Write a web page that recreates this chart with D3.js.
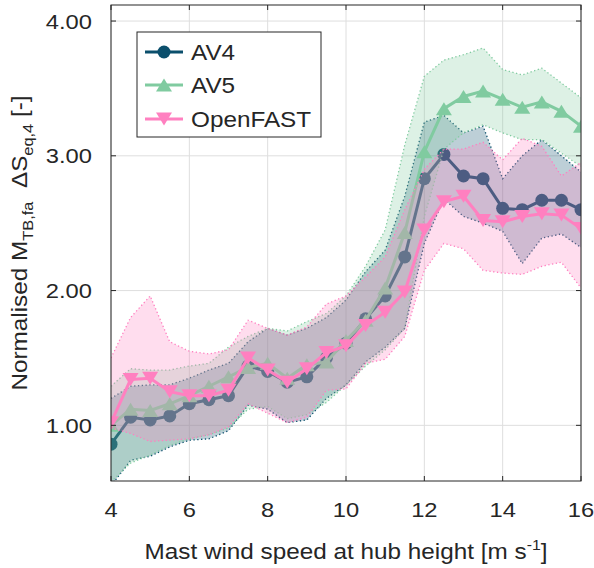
<!DOCTYPE html>
<html>
<head>
<meta charset="utf-8">
<script src="https://cdn.jsdelivr.net/npm/d3@7"></script>
<style>
  body { margin: 0; background: #fff; }
  text { font-family: "Liberation Sans", Arial, sans-serif; fill: #262626; }
</style>
</head>
<body>
<svg class="chartSVG" width="594" height="568"></svg>
<script>
// wind speed bins [m/s]
const windSpeed = [4, 4.5, 5, 5.5, 6, 6.5, 7, 7.5, 8, 8.5, 9, 9.5, 10, 10.5, 11, 11.5, 12, 12.5, 13, 13.5, 14, 14.5, 15, 15.5, 16]

// AV4
const av4Mean  = [0.86, 1.06, 1.04, 1.07, 1.16, 1.19, 1.22, 1.44, 1.40, 1.32, 1.36, 1.50, 1.61, 1.79, 1.96, 2.25, 2.83, 3.01, 2.85, 2.83, 2.61, 2.60, 2.67, 2.67, 2.60]
const av4Upper = [1.20, 1.29, 1.30, 1.30, 1.35, 1.41, 1.46, 1.62, 1.72, 1.67, 1.72, 1.80, 1.93, 2.14, 2.30, 2.70, 3.25, 3.30, 3.17, 3.22, 2.83, 3.00, 3.12, 3.00, 2.88]
const av4Lower = [0.55, 0.74, 0.77, 0.84, 0.89, 0.90, 0.96, 1.15, 1.12, 1.02, 1.04, 1.20, 1.30, 1.47, 1.58, 1.72, 2.35, 2.68, 2.55, 2.50, 2.44, 2.20, 2.39, 2.42, 2.32]

// AV5
const av5Mean  = [1.00, 1.12, 1.11, 1.16, 1.22, 1.29, 1.36, 1.43, 1.46, 1.35, 1.45, 1.47, 1.63, 1.78, 2.02, 2.43, 3.03, 3.35, 3.44, 3.48, 3.42, 3.36, 3.40, 3.33, 3.22]
const av5Upper = [1.29, 1.42, 1.41, 1.41, 1.44, 1.46, 1.58, 1.66, 1.72, 1.70, 1.77, 1.83, 1.96, 2.18, 2.45, 3.08, 3.59, 3.71, 3.75, 3.80, 3.64, 3.60, 3.65, 3.54, 3.43]
const av5Lower = [0.58, 0.72, 0.78, 0.85, 0.90, 0.93, 0.98, 1.12, 1.14, 1.05, 1.08, 1.17, 1.30, 1.44, 1.56, 1.72, 2.55, 3.05, 3.17, 3.23, 3.17, 3.12, 3.12, 3.02, 2.92]

// OpenFAST
const ofMean  = [1.02, 1.34, 1.35, 1.25, 1.22, 1.22, 1.26, 1.50, 1.41, 1.32, 1.42, 1.54, 1.59, 1.74, 1.84, 1.99, 2.45, 2.66, 2.70, 2.52, 2.51, 2.55, 2.57, 2.56, 2.46]
const ofUpper = [1.50, 1.80, 1.96, 1.62, 1.55, 1.53, 1.56, 1.78, 1.72, 1.67, 1.73, 1.90, 1.96, 2.10, 2.25, 2.60, 2.90, 3.05, 3.05, 3.10, 2.97, 3.13, 3.07, 2.85, 2.95]
const ofLower = [0.98, 0.94, 0.88, 0.89, 0.90, 0.93, 0.99, 1.16, 1.09, 1.02, 1.06, 1.26, 1.27, 1.46, 1.49, 1.66, 2.15, 2.35, 2.31, 2.15, 2.13, 2.12, 2.18, 2.21, 2.02]

const xTicks = [4, 6, 8, 10, 12, 14, 16]
const yTicks = [1, 2, 3, 4]

const series = [
  { name: "AV4", color: "#0b4f6c", marker: "circle", mean: av4Mean, upper: av4Upper, lower: av4Lower },
  { name: "AV5", color: "#80cba0", marker: "up", mean: av5Mean, upper: av5Upper, lower: av5Lower },
  { name: "OpenFAST", color: "#ff80c0", marker: "down", mean: ofMean, upper: ofUpper, lower: ofLower },
]

const svg = d3.select(".chartSVG")
const margin = { left: 111, top: 5, right: 13, bottom: 87 }
const W = 594, H = 568
const axisColor = "#262626"
const stretch = 1.13 // the text in the original is set wider than Arial

const x = d3.scaleLinear().domain([4, 16]).range([margin.left, W - margin.right])
const y = d3.scaleLinear().domain([0.587, 4.119]).range([H - margin.bottom, margin.top])

svg.append("defs").append("clipPath").attr("id", "plotClip")
  .append("rect")
  .attr("x", x.range()[0]).attr("y", y.range()[1])
  .attr("width", x.range()[1] - x.range()[0])
  .attr("height", y.range()[0] - y.range()[1])

// grid
const grid = svg.append("g").attr("class", "grid")
grid.selectAll(".gx").data(xTicks).join("line")
  .attr("x1", d => x(d)).attr("x2", d => x(d))
  .attr("y1", y.range()[0]).attr("y2", y.range()[1])
  .attr("stroke", "#dedede").attr("stroke-width", 1)
grid.selectAll(".gy").data(yTicks).join("line")
  .attr("y1", d => y(d)).attr("y2", d => y(d))
  .attr("x1", x.range()[0]).attr("x2", x.range()[1])
  .attr("stroke", "#dedede").attr("stroke-width", 1)

const plot = svg.append("g").attr("clip-path", "url(#plotClip)")

function markerPath(type) {
  const w = 16, h = 13
  if (type == "up") return `M0,${-h / 2}L${w / 2},${h / 2}L${-w / 2},${h / 2}Z`
  if (type == "down") return `M0,${h / 2}L${w / 2},${-h / 2}L${-w / 2},${-h / 2}Z`
  return null
}

function drawMarkers(g, pts, s) {
  if (s.marker == "circle") {
    g.selectAll("circle").data(pts).join("circle")
      .attr("cx", d => d[0]).attr("cy", d => d[1])
      .attr("r", 6.5).attr("fill", s.color)
  } else {
    g.selectAll("path.mk").data(pts).join("path")
      .attr("class", "mk")
      .attr("d", markerPath(s.marker))
      .attr("transform", d => `translate(${d[0]},${d[1]})`)
      .attr("fill", s.color)
  }
}

const area = d3.area()
  .x(d => x(d.ws)).y0(d => y(d.lo)).y1(d => y(d.hi))
const edge = d3.line().x(d => x(d[0])).y(d => y(d[1]))

series.forEach(s => {
  const band = windSpeed.map((ws, i) => ({ ws: ws, lo: s.lower[i], hi: s.upper[i] }))
  const g = plot.append("g").attr("class", "series-" + s.name)

  g.append("path")
    .attr("d", area(band))
    .attr("fill", s.color).attr("fill-opacity", 0.27)

  ;[s.upper, s.lower].forEach(b => {
    g.append("path")
      .attr("d", edge(windSpeed.map((ws, i) => [ws, b[i]])))
      .attr("fill", "none")
      .attr("stroke", s.color)
      .attr("stroke-width", 1.3)
      .attr("stroke-dasharray", "1.3,2.5")
  })

  const pts = windSpeed.map((ws, i) => [ws, s.mean[i]])
  g.append("path")
    .attr("d", edge(pts))
    .attr("fill", "none")
    .attr("stroke", s.color)
    .attr("stroke-width", 3)
  drawMarkers(g.append("g"), pts.map(p => [x(p[0]), y(p[1])]), s)
})

// axes box + inward ticks on all four sides
const ax = svg.append("g").attr("class", "axes")
ax.append("rect")
  .attr("x", x.range()[0]).attr("y", y.range()[1])
  .attr("width", x.range()[1] - x.range()[0])
  .attr("height", y.range()[0] - y.range()[1])
  .attr("fill", "none").attr("stroke", axisColor).attr("stroke-width", 1)

const tl = 5
xTicks.forEach(t => {
  ax.append("line").attr("x1", x(t)).attr("x2", x(t))
    .attr("y1", y.range()[0]).attr("y2", y.range()[0] - tl).attr("stroke", axisColor)
  ax.append("line").attr("x1", x(t)).attr("x2", x(t))
    .attr("y1", y.range()[1]).attr("y2", y.range()[1] + tl).attr("stroke", axisColor)
})
yTicks.forEach(t => {
  ax.append("line").attr("y1", y(t)).attr("y2", y(t))
    .attr("x1", x.range()[0]).attr("x2", x.range()[0] + tl).attr("stroke", axisColor)
  ax.append("line").attr("y1", y(t)).attr("y2", y(t))
    .attr("x1", x.range()[1]).attr("x2", x.range()[1] - tl).attr("stroke", axisColor)
})

ax.selectAll(".xlab").data(xTicks).join("text")
  .attr("transform", d => `translate(${x(d)},${y.range()[0] + 36}) scale(${stretch},1)`)
  .attr("text-anchor", "middle")
  .attr("font-size", "21px")
  .text(d => d)

ax.selectAll(".ylab").data(yTicks).join("text")
  .attr("transform", d => `translate(${x.range()[0] - 19},${y(d) + 7.5}) scale(${stretch},1)`)
  .attr("text-anchor", "end")
  .attr("font-size", "21px")
  .text(d => d3.format(".2f")(d))

// x title
const xt = svg.append("text")
  .attr("transform", `translate(${(x.range()[0] + x.range()[1]) / 2},559) scale(${stretch},1)`)
  .attr("text-anchor", "middle")
  .attr("font-size", "21.5px")
xt.append("tspan").text("Mast wind speed at hub height [m s")
xt.append("tspan").attr("dy", -9).attr("font-size", "14px").text("-1")
xt.append("tspan").attr("dy", 9).text("]")

// y title
const yt = svg.append("text")
  .attr("transform", `translate(27,${(y.range()[0] + y.range()[1]) / 2}) rotate(-90) scale(${stretch},1)`)
  .attr("text-anchor", "middle")
  .attr("font-size", "21.5px")
  .style("white-space", "pre")
yt.append("tspan").text("Normalised M")
yt.append("tspan").attr("dy", 6).attr("font-size", "14.5px").text("TB,fa")
yt.append("tspan").attr("dy", -6).text("  \u0394S")
yt.append("tspan").attr("dy", 6).attr("font-size", "14.5px").text("eq,4")
yt.append("tspan").attr("dy", -6).text(" [-]")

// legend
const lg = svg.append("g").attr("class", "legend")
lg.append("rect")
  .attr("x", 137).attr("y", 32).attr("width", 184).attr("height", 105)
  .attr("fill", "#fff").attr("stroke", axisColor).attr("stroke-width", 1)

const rowY = [52, 85, 119]
series.forEach((s, i) => {
  const r = lg.append("g").attr("transform", `translate(0,${rowY[i]})`)
  r.append("line").attr("x1", 145).attr("x2", 183).attr("y1", 0).attr("y2", 0)
    .attr("stroke", s.color).attr("stroke-width", 3)
  drawMarkers(r.append("g"), [[164, 0]], s)
  r.append("text")
    .attr("transform", `translate(191,8) scale(1.08,1)`)
    .attr("font-size", "22.5px")
    .text(s.name)
})
</script>
</body>
</html>
